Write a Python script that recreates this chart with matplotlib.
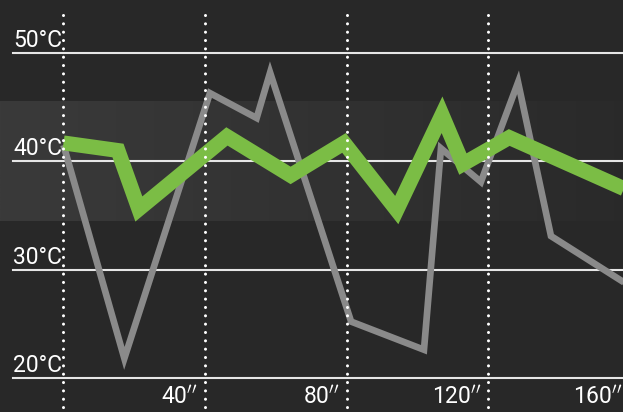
import numpy as np
import matplotlib.pyplot as plt

# temperature traces (seconds, °C)
time_green = [0, 15.4, 21.3, 46.2, 64.2, 79.3, 94.2, 107.0, 112.9, 126.0, 160]
temp_green = [41.7, 41.0, 35.6, 42.3, 38.7, 41.7, 35.5, 44.3, 39.75, 42.2, 37.25]

time_gray = [0, 17.2, 41.4, 54.6, 58.4, 81.3, 101.9, 106.7, 118.0, 128.5, 137.8, 160]
temp_gray = [41.5, 21.8, 46.3, 44.0, 48.2, 25.2, 22.6, 41.2, 38.1, 47.3, 33.1, 28.5]

y_ticks = [20, 30, 40, 50]
x_ticks = [40, 80, 120, 160]
marker_times = [0, 40, 80, 120]
zone_low, zone_high = 34.5, 45.5

bg = '#282828'
plt.rcParams['font.family'] = ['Roboto', 'DejaVu Sans']

fig = plt.figure(figsize=(6.23, 4.12), dpi=100, facecolor=bg)
ax = fig.add_axes([0, 0, 1, 1])
ax.set_facecolor(bg)
ax.set_axis_off()
x0, x1 = -17.95, 158.16
y0, y1 = 16.85, 54.9
ax.set_xlim(x0, x1)
ax.set_ylim(y0, y1)

# shaded comfort zone, fading out to the right
cols = 256
fade = np.linspace(1, 0.1, cols)
left = np.array([0x3a, 0x3a, 0x3a]) / 255
base = np.array([0x28, 0x28, 0x28]) / 255
grad = base + (left - base) * fade[:, None]
ax.imshow(grad[None, :, :], extent=(x0, x1, zone_low, zone_high),
          aspect='auto', interpolation='bilinear', zorder=0.5)

# horizontal reference lines with labels
lab_x = 13 / 623
for v in y_ticks:
    ax.axhline(v, xmin=lab_x, color='#e6e6e6', lw=1.5, zorder=1)
    ax.text(lab_x, v + 0.55, f'{v}°C', transform=ax.get_yaxis_transform(),
            ha='left', va='baseline', color='white', fontsize=16.5, zorder=6)

ax.plot(time_gray, temp_gray, color='#8a8a8a', lw=4.8,
        solid_joinstyle='miter', solid_capstyle='butt', zorder=3)
ax.plot(time_green, temp_green, color='#7bbd45', lw=10.8,
        solid_joinstyle='miter', solid_capstyle='butt', zorder=4)

# dotted time markers
for t in marker_times:
    ax.plot([t, t], [53.5, y0 - 1], color='white', lw=2.2,
            ls=(0, (0.01, 2.72)), dash_capstyle='round', zorder=5)

for t in x_ticks:
    ax.annotate(f"{t}$''$", xy=(t, 17.49), xytext=(-7, 0),
                textcoords='offset pixels', ha='right', va='baseline',
                color='white', fontsize=16.5, zorder=6, annotation_clip=False)

fig.savefig('out.png', dpi=100, facecolor=bg)
